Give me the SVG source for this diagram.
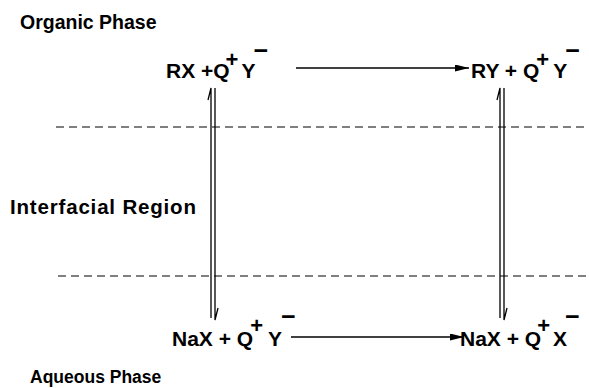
<svg xmlns="http://www.w3.org/2000/svg" width="589" height="388" viewBox="0 0 589 388">
<style>
text{font-family:"Liberation Sans",Arial,sans-serif;font-weight:bold;fill:#000}
.chem{font-size:21px}
.p{font-size:22px}
.m{font-size:25px}
.dash{stroke:#000;stroke-width:1;stroke-dasharray:8,5;fill:none}
.ln{stroke:#000;stroke-width:1.3;fill:none}
</style>
<defs>
<marker id="ah" markerWidth="14" markerHeight="7" refX="14" refY="3.5" orient="auto" markerUnits="userSpaceOnUse">
<path d="M0,0 L14,3.5 L0,7 Z" fill="#000"/>
</marker>
</defs>
<g id="labels">
<text x="20" y="29" font-size="19.5">Organic Phase</text>
<text x="10" y="214" font-size="20.5" textLength="186" lengthAdjust="spacing">Interfacial Region</text>
<text x="30" y="383" font-size="17.5">Aqueous Phase</text>
</g>
<g id="node-top-left">
<text class="chem" x="166" y="78">RX +Q<tspan class="p" dx="-4" dy="-11">+</tspan><tspan dx="3" dy="11">Y</tspan><tspan class="m" dx="-2" dy="-19">−</tspan></text>
</g>
<g id="node-top-right">
<text class="chem" x="471" y="78">RY + Q<tspan class="p" dx="-3" dy="-11">+</tspan><tspan dx="4" dy="11">Y</tspan><tspan class="m" dx="-2" dy="-19">−</tspan></text>
</g>
<g id="node-bottom-left">
<text class="chem" x="172" y="346">NaX + Q<tspan class="p" dx="-3" dy="-13">+</tspan><tspan dx="5" dy="13">Y</tspan><tspan class="m" dx="-1" dy="-21">−</tspan></text>
</g>
<g id="node-bottom-right">
<text class="chem" x="460" y="346">NaX + Q<tspan class="p" dx="-4" dy="-13">+</tspan><tspan dx="3" dy="13">X</tspan><tspan class="m" dx="-2" dy="-21">−</tspan></text>
</g>
<g id="connectors">
<line class="dash" x1="56" y1="127" x2="586" y2="127"/>
<line class="dash" x1="58" y1="276" x2="586" y2="276"/>
<line class="ln" x1="296" y1="68" x2="469" y2="68" marker-end="url(#ah)"/>
<line class="ln" x1="291" y1="337" x2="464" y2="337" marker-end="url(#ah)"/>
<path class="ln" d="M211,318 L211,88 L208,100"/>
<path class="ln" d="M215,88 L215,320 L218,308"/>
<path class="ln" d="M500,318 L500,88 L497,100"/>
<path class="ln" d="M504,88 L504,320 L507,308"/>
</g>
</svg>
